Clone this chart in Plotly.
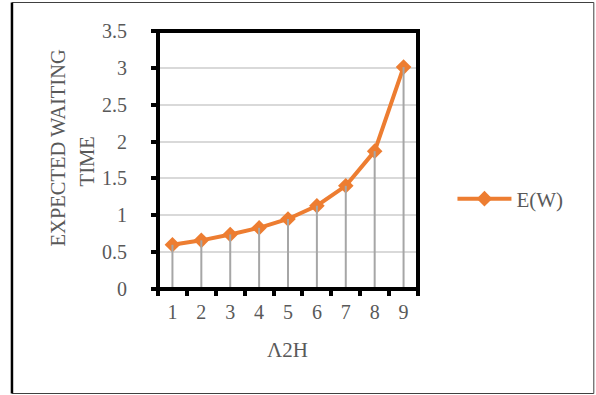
import plotly.graph_objects as go

# Data
categories = ["1", "2", "3", "4", "5", "6", "7", "8", "9"]
expected_waiting = [0.60, 0.66, 0.74, 0.83, 0.95, 1.13, 1.40, 1.87, 3.01]
y_ticks = [0, 0.5, 1, 1.5, 2, 2.5, 3, 3.5]
y_tick_text = ["0", "0.5", "1", "1.5", "2", "2.5", "3", "3.5"]

W, H = 596, 395
ML, MR, MT, MB = 158.2, 177.5, 31, 106
PW, PH = W - ML - MR, H - MT - MB

FONT = "Liberation Serif"
TXT = "#595959"
ORANGE = "#ED7D31"
LEGEND_KEY_W = 54


def px_x(px):
    return (px - ML) / PW


def px_y(py):
    return (H - MB - py) / PH


# drop lines from each point down to the category axis
drop_x, drop_y = [], []
for c, v in zip(categories, expected_waiting):
    drop_x += [c, c, None]
    drop_y += [0, v, None]

fig = go.Figure()
fig.add_trace(go.Scatter(
    x=categories, y=expected_waiting, mode="lines+markers", name="E(W)",
    line=dict(color=ORANGE, width=4),
    marker=dict(symbol="diamond", size=12, color=ORANGE),
))
fig.add_trace(go.Scatter(
    x=drop_x, y=drop_y, mode="lines", showlegend=False, hoverinfo="skip",
    line=dict(color="#A6A6A6", width=2),
))

fig.update_layout(
    width=W, height=H,
    margin=dict(l=ML, r=MR, t=MT, b=MB, pad=0),
    paper_bgcolor="white", plot_bgcolor="white",
    font=dict(family=FONT, size=20, color=TXT),
    showlegend=True,
    legend=dict(
        x=px_x(517 - LEGEND_KEY_W - 10), y=px_y(199),
        xanchor="left", yanchor="middle",
        itemwidth=LEGEND_KEY_W,
        font=dict(family=FONT, size=21, color=TXT),
        bgcolor="rgba(0,0,0,0)", borderwidth=0,
    ),
    xaxis=dict(
        type="category", range=[-0.5, 8.5], tickson="boundaries",
        showgrid=False, showline=False, zeroline=False,
        ticks="outside", ticklen=6, tickwidth=4, tickcolor="black",
        ticklabelstandoff=9,
        tickfont=dict(family=FONT, size=20, color=TXT),
        fixedrange=True,
    ),
    yaxis=dict(
        range=[0, 3.5], tickvals=y_ticks, ticktext=y_tick_text,
        showgrid=True, gridcolor="#D9D9D9", gridwidth=2,
        showline=False, zeroline=False,
        ticks="outside", ticklen=6, tickwidth=4, tickcolor="black",
        ticklabelstandoff=20,
        tickfont=dict(family=FONT, size=20, color=TXT),
        fixedrange=True,
    ),
    shapes=[
        # heavy frame around the plotting area
        dict(type="rect", xref="paper", yref="paper", x0=0, x1=1, y0=0, y1=1,
             line=dict(color="black", width=4), layer="above"),
        # outer chart border
        dict(type="rect", xref="paper", yref="paper",
             x0=px_x(12.5), x1=px_x(594.5), y0=px_y(393.5), y1=px_y(2.5),
             line=dict(color="#404040", width=1), layer="above"),
        dict(type="line", xref="paper", yref="paper",
             x0=px_x(12), x1=px_x(12), y0=px_y(393.5), y1=px_y(2.5),
             line=dict(color="black", width=2.5), layer="above"),
    ],
    annotations=[
        dict(text="EXPECTED WAITING", textangle=-90, xref="paper", yref="paper",
             x=px_x(58), y=px_y(147.5), xanchor="center", yanchor="middle",
             showarrow=False, font=dict(family=FONT, size=20.5, color=TXT)),
        dict(text="TIME", textangle=-90, xref="paper", yref="paper",
             x=px_x(87), y=px_y(161.5), xanchor="center", yanchor="middle",
             showarrow=False, font=dict(family=FONT, size=20.5, color=TXT)),
        dict(text="Λ2H", xref="paper", yref="paper",
             x=px_x(288), y=px_y(350), xanchor="center", yanchor="middle",
             showarrow=False, font=dict(family=FONT, size=21, color=TXT)),
    ],
)

fig.write_html("out.html", config=dict(displayModeBar=False))
